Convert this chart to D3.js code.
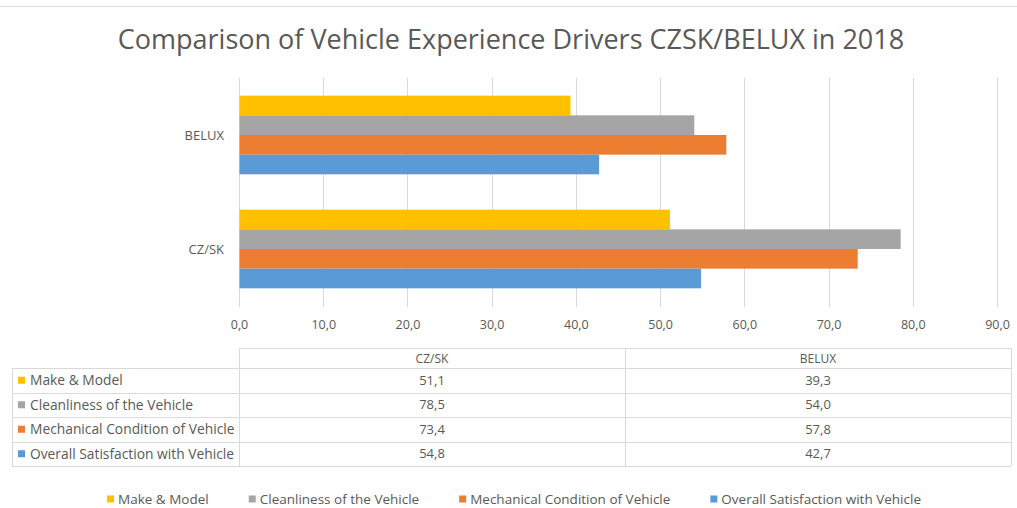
<!DOCTYPE html>
<html>
<head>
<meta charset="utf-8">
<script src="https://cdn.jsdelivr.net/npm/d3@7"></script>
<style>
  body { margin: 0; background: #fff; }
  svg { display: block; font-family: "Open Sans", "Noto Sans", sans-serif; }
</style>
</head>
<body>
<div id="chart-area"></div>
<script>
// Data
const regions = ["CZ/SK", "BELUX"];
const series = ["Make & Model", "Cleanliness of the Vehicle", "Mechanical Condition of Vehicle", "Overall Satisfaction with Vehicle"];
const colors = ["#FFC000", "#A5A5A5", "#ED7D31", "#5B9BD5"];
const czskValues = [51.1, 78.5, 73.4, 54.8];
const beluxValues = [39.3, 54.0, 57.8, 42.7];
const ticks = [0, 10, 20, 30, 40, 50, 60, 70, 80, 90];

const width = 1017, height = 508;
const textColor = "#595959";
const fmt = v => d3.format(".1f")(v).replace(".", ",");

const svg = d3.select("#chart-area")
    .append("svg")
    .attr("width", width)
    .attr("height", height);

// chart border (top edge visible)
svg.append("line")
    .attr("x1", 0).attr("x2", width)
    .attr("y1", 6.5).attr("y2", 6.5)
    .attr("stroke", "#d9d9d9");

// Title
svg.append("text")
    .attr("x", 511)
    .attr("y", 49)
    .attr("text-anchor", "middle")
    .attr("fill", textColor)
    .style("font-size", "27px")
    .text("Comparison of Vehicle Experience Drivers CZSK/BELUX in 2018");

// Scales
const x = d3.scaleLinear().domain([0, 90]).range([239, 997]);
const y = d3.scaleBand()
    .domain(["BELUX", "CZ/SK"])
    .range([78, 306])
    .paddingInner(0.31)
    .paddingOuter(0.155);
const ySeries = d3.scaleBand().domain(series).range([0, y.bandwidth()]);

// Gridlines
svg.append("g")
    .selectAll("line")
    .data(ticks)
    .join("line")
    .attr("x1", d => Math.round(x(d)) + 0.5)
    .attr("x2", d => Math.round(x(d)) + 0.5)
    .attr("y1", 78)
    .attr("y2", 307)
    .attr("stroke", "#d9d9d9");

// X axis labels
const xAxis = d3.axisBottom(x).tickValues(ticks).tickFormat(fmt).tickSize(0).tickPadding(0);
const gx = svg.append("g")
    .attr("transform", "translate(0,320)")
    .call(xAxis);
gx.select(".domain").remove();
gx.selectAll("text")
    .attr("fill", textColor)
    .style("font-size", "12.5px")
    .style("font-family", "'Open Sans', sans-serif");

// Category labels
svg.append("g")
    .selectAll("text")
    .data(y.domain())
    .join("text")
    .attr("x", 224)
    .attr("y", d => y(d) + y.bandwidth() / 2)
    .attr("dy", "0.35em")
    .attr("text-anchor", "end")
    .attr("fill", textColor)
    .style("font-size", "13px")
    .text(d => d);

// Bars
const valuesByRegion = { "CZ/SK": czskValues, "BELUX": beluxValues };
const barData = [];
regions.forEach(r => {
    series.forEach((s, i) => {
        barData.push({ region: r, series: s, value: valuesByRegion[r][i], color: colors[i] });
    });
});

svg.append("g")
    .selectAll("rect")
    .data(barData)
    .join("rect")
    .attr("x", x(0) + 0.5)
    .attr("y", d => y(d.region) + ySeries(d.series))
    .attr("width", d => x(d.value) - x(0))
    .attr("height", ySeries.bandwidth())
    .attr("fill", d => d.color);

// Data table
const tableLeft = 12, colStart = 239, tableRight = 1011;
const colMid = (colStart + tableRight) / 2;
const colEdges = [colStart, colMid, tableRight];
const headerTop = 348, headerBottom = 368, rowH = 24.5;
const rowY = i => headerBottom + i * rowH;
const tableBottom = rowY(series.length);
const borderColor = "#d9d9d9";

const table = svg.append("g");

// horizontal lines
table.append("line")
    .attr("x1", colStart).attr("x2", tableRight)
    .attr("y1", headerTop + 0.5).attr("y2", headerTop + 0.5)
    .attr("stroke", borderColor);
table.selectAll(".hline")
    .data(d3.range(series.length + 1))
    .join("line")
    .attr("class", "hline")
    .attr("x1", tableLeft).attr("x2", tableRight)
    .attr("y1", d => Math.round(rowY(d)) + 0.5)
    .attr("y2", d => Math.round(rowY(d)) + 0.5)
    .attr("stroke", borderColor);

// vertical lines
table.append("line")
    .attr("x1", tableLeft + 0.5).attr("x2", tableLeft + 0.5)
    .attr("y1", headerBottom).attr("y2", tableBottom)
    .attr("stroke", borderColor);
table.selectAll(".vline")
    .data(colEdges)
    .join("line")
    .attr("class", "vline")
    .attr("x1", d => Math.round(d) + 0.5)
    .attr("x2", d => Math.round(d) + 0.5)
    .attr("y1", headerTop).attr("y2", tableBottom)
    .attr("stroke", borderColor);

// header
table.selectAll(".head")
    .data(regions)
    .join("text")
    .attr("class", "head")
    .attr("x", (d, i) => (colEdges[i] + colEdges[i + 1]) / 2)
    .attr("y", (headerTop + headerBottom) / 2 + 1)
    .attr("dy", "0.35em")
    .attr("text-anchor", "middle")
    .attr("fill", textColor)
    .style("font-size", "12px")
    .text(d => d);

// rows
series.forEach((s, i) => {
    const cy = rowY(i) + rowH / 2;
    table.append("rect")
        .attr("x", 18).attr("y", cy - 3.5)
        .attr("width", 7).attr("height", 7)
        .attr("fill", colors[i]);
    table.append("text")
        .attr("x", 30).attr("y", cy)
        .attr("dy", "0.35em")
        .attr("fill", textColor)
        .style("font-size", "13.8px")
        .text(s);
    regions.forEach((r, j) => {
        table.append("text")
            .attr("x", (colEdges[j] + colEdges[j + 1]) / 2)
            .attr("y", cy)
            .attr("dy", "0.35em")
            .attr("text-anchor", "middle")
            .attr("fill", textColor)
            .style("font-size", "13px")
            .text(fmt(valuesByRegion[r][i]));
    });
});

// Legend
const legend = svg.append("g");
const items = legend.selectAll("g")
    .data(series)
    .join("g");
items.append("rect")
    .attr("width", 7).attr("height", 7)
    .attr("y", -3.5)
    .attr("fill", (d, i) => colors[i]);
items.append("text")
    .attr("x", 11)
    .attr("dy", "0.35em")
    .attr("fill", textColor)
    .style("font-size", "13.5px")
    .text(d => d);

const itemGap = 40;
let widths = [];
items.each(function() { widths.push(this.getBBox().width); });
const total = d3.sum(widths) + itemGap * (widths.length - 1);
let cursor = 514 - total / 2;
items.attr("transform", (d, i) => {
    const t = "translate(" + cursor + ",499)";
    cursor += widths[i] + itemGap;
    return t;
});
</script>
</body>
</html>
